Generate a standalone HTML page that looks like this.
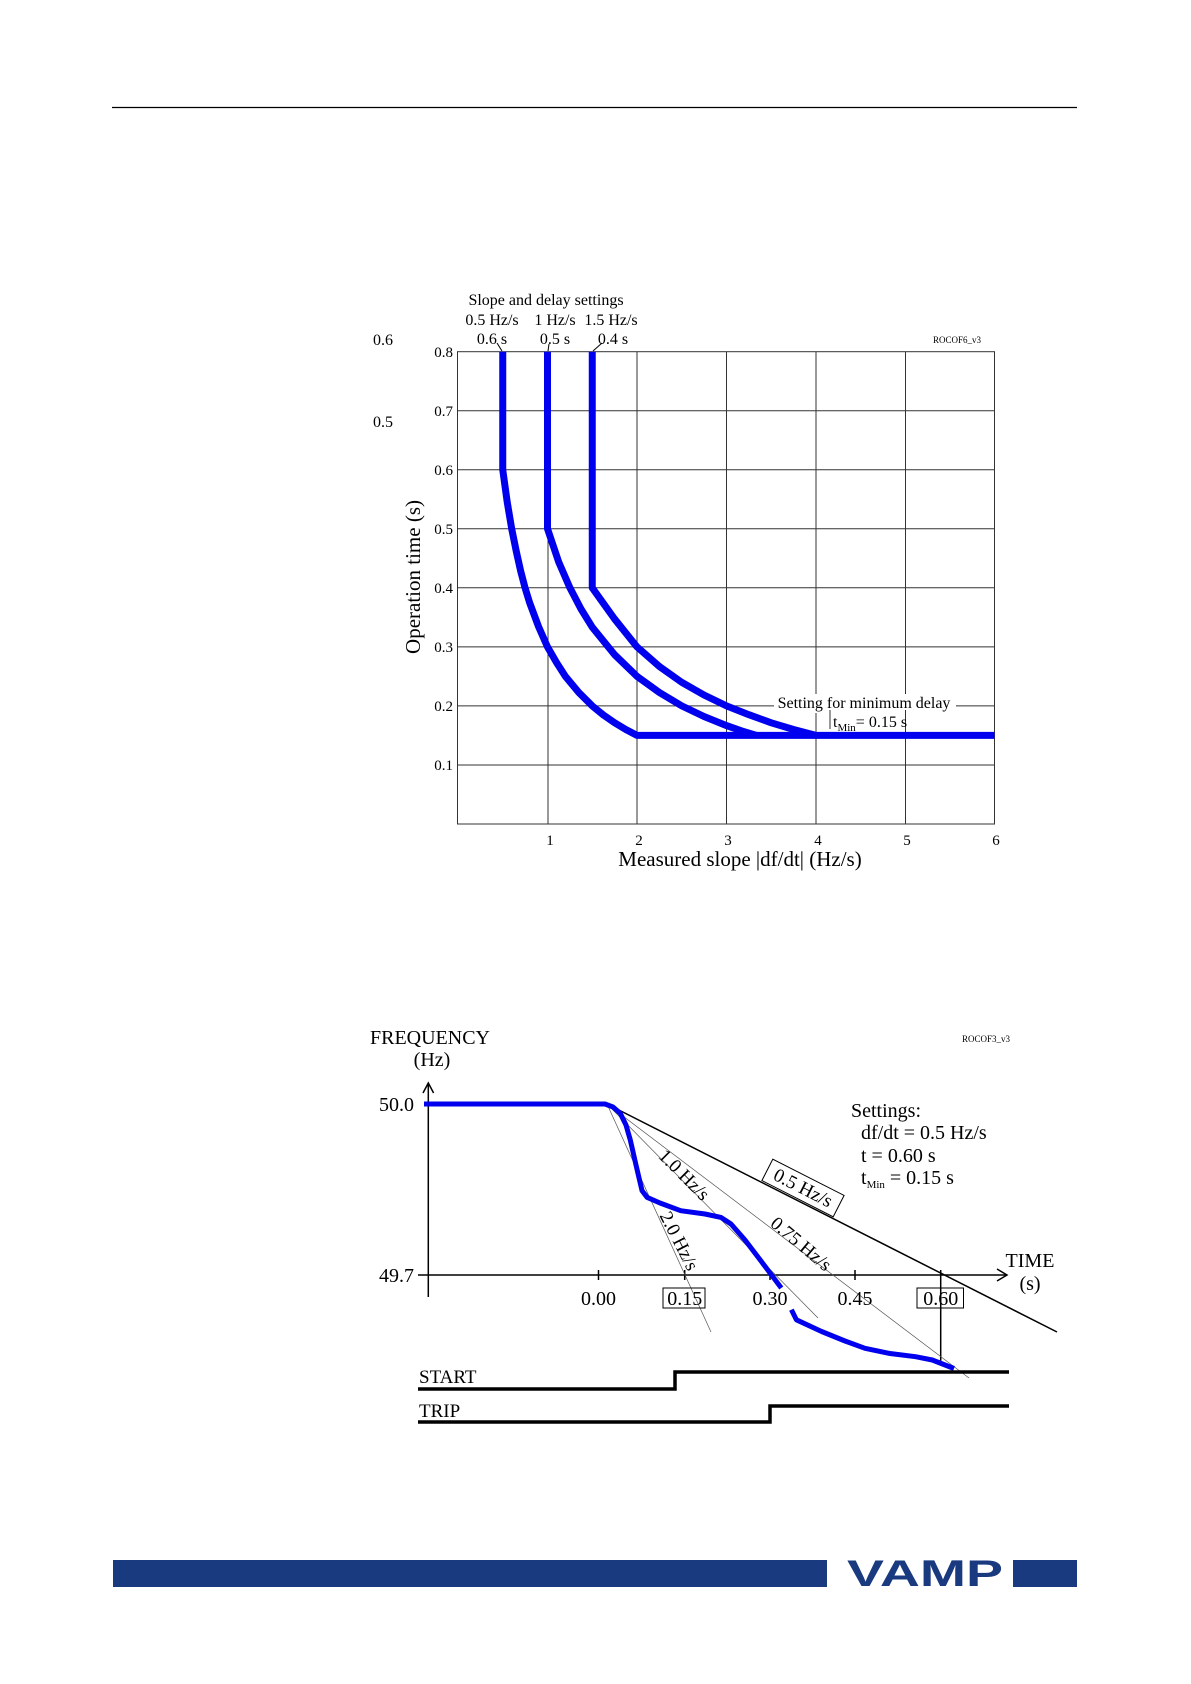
<!DOCTYPE html>
<html><head><meta charset="utf-8"><style>
html,body{margin:0;padding:0;background:#fff;}
svg{display:block;}
text{font-family:"Liberation Serif",serif;fill:#000;}
</style></head><body>
<svg width="1191" height="1684" viewBox="0 0 1191 1684" xmlns="http://www.w3.org/2000/svg">
<line x1="112" y1="107.5" x2="1077" y2="107.5" stroke="#000" stroke-width="1.2"/>

<!-- Chart 1 -->
<g stroke="#333" stroke-width="1" fill="none">
<rect x="457.5" y="351.7" width="537" height="472.3"/>
<line x1="548" y1="351.7" x2="548" y2="824"/>
<line x1="637" y1="351.7" x2="637" y2="824"/>
<line x1="726.5" y1="351.7" x2="726.5" y2="824"/>
<line x1="816" y1="351.7" x2="816" y2="824"/>
<line x1="905.5" y1="351.7" x2="905.5" y2="824"/>
<line x1="457.5" y1="410.7" x2="994.5" y2="410.7"/>
<line x1="457.5" y1="469.8" x2="994.5" y2="469.8"/>
<line x1="457.5" y1="528.8" x2="994.5" y2="528.8"/>
<line x1="457.5" y1="587.8" x2="994.5" y2="587.8"/>
<line x1="457.5" y1="646.9" x2="994.5" y2="646.9"/>
<line x1="457.5" y1="705.9" x2="994.5" y2="705.9"/>
<line x1="457.5" y1="765" x2="994.5" y2="765"/>
</g>
<rect x="774" y="694" width="182" height="19" fill="#fff"/>
<rect x="830" y="713" width="76" height="16" fill="#fff"/>
<line x1="830" y1="710" x2="830" y2="729" stroke="#333"/>
<line x1="905.5" y1="710" x2="905.5" y2="729" stroke="#333"/>
<g stroke="#0000ee" stroke-width="7" fill="none" stroke-linejoin="round">
<polyline points="502.75,351.7 502.75,469.8 507.2,502 511.7,528.8 516.2,551 520.65,571 525.1,588 529.6,602.6 538.5,626.5 547.5,646.9 556.5,662.5 565.4,676.4 578.8,692.5 592.25,705.9 603.4,715 614.6,722.8 625.8,729.5 637,735.4 994.5,735.4"/>
<polyline points="547.5,351.7 547.5,528.8 558.7,562 569.9,587.8 581,609 592.25,627.2 614.6,654.7 637,676.4 659.4,692.5 681.75,705.9 704,716.5 726.5,725.6 741.4,730.8 756.3,735.4"/>
<polyline points="592.25,351.7 592.25,587.8 614.6,619 637,646.9 659.4,666.5 681.75,682.3 704,695 726.5,705.9 748.9,714.7 771.25,722.8 793.6,729.5 816,735.4"/>
</g>
<g stroke="#000" stroke-width="1">
<line x1="497" y1="343" x2="502" y2="351"/>
<line x1="549" y1="344" x2="548" y2="351"/>
<line x1="602" y1="343" x2="593" y2="351"/>
</g>
<g font-size="16" text-anchor="middle">
<text x="546" y="305">Slope and delay settings</text>
<text x="492" y="325">0.5 Hz/s</text>
<text x="555" y="325">1 Hz/s</text>
<text x="611" y="325">1.5 Hz/s</text>
<text x="492" y="344">0.6 s</text>
<text x="555" y="344">0.5 s</text>
<text x="613" y="344">0.4 s</text>
<text x="383" y="345">0.6</text>
<text x="383" y="427">0.5</text>
</g>
<text x="957" y="343" font-size="9" text-anchor="middle">ROCOF6_v3</text>
<g font-size="15" text-anchor="end">
<text x="453" y="357">0.8</text>
<text x="453" y="416">0.7</text>
<text x="453" y="475">0.6</text>
<text x="453" y="534">0.5</text>
<text x="453" y="593">0.4</text>
<text x="453" y="652">0.3</text>
<text x="453" y="711">0.2</text>
<text x="453" y="770">0.1</text>
</g>
<g font-size="15" text-anchor="middle">
<text x="550" y="845">1</text>
<text x="639" y="845">2</text>
<text x="728" y="845">3</text>
<text x="818" y="845">4</text>
<text x="907" y="845">5</text>
<text x="996" y="845">6</text>
</g>
<text x="740" y="866" font-size="21" text-anchor="middle">Measured slope |df/dt|  (Hz/s)</text>
<text transform="translate(420,577) rotate(-90)" font-size="21" text-anchor="middle">Operation time  (s)</text>
<text x="864" y="708" font-size="16" text-anchor="middle">Setting for minimum delay</text>
<text x="833" y="727" font-size="16">t<tspan font-size="11" dy="4">Min</tspan><tspan dy="-4">= 0.15 s</tspan></text>

<!-- Chart 2 -->
<text x="430" y="1044" font-size="20" text-anchor="middle">FREQUENCY</text>
<text x="432" y="1066" font-size="20" text-anchor="middle">(Hz)</text>
<text x="986" y="1042" font-size="9" text-anchor="middle">ROCOF3_v3</text>
<g stroke="#000" stroke-width="1.5" fill="none">
<line x1="428.3" y1="1084" x2="428.3" y2="1297"/>
<polyline points="423,1093 428.3,1083 433.6,1093"/>
<line x1="418" y1="1275" x2="1006" y2="1275"/>
<polyline points="997,1269 1007,1275 997,1281"/>
<line x1="598.5" y1="1270" x2="598.5" y2="1280"/>
<line x1="684.7" y1="1270" x2="684.7" y2="1280"/>
<line x1="770" y1="1270" x2="770" y2="1280"/>
<line x1="855" y1="1270" x2="855" y2="1280"/>
<line x1="940.7" y1="1270" x2="940.7" y2="1365"/>
<line x1="607" y1="1104" x2="1057" y2="1332"/>
</g>
<g stroke="#555" stroke-width="0.7">
<line x1="607" y1="1104" x2="711" y2="1332"/>
<line x1="607" y1="1104" x2="818" y2="1318"/>
<line x1="607" y1="1104" x2="969" y2="1378"/>
</g>
<polyline points="424,1104 605,1104 613,1107 620.3,1113.4 626,1125 630.3,1140 636,1165 642,1190.6 647,1197.3 660,1203 680.7,1210.7 705,1214 721,1217.4 731,1224 745,1240 761,1261 781.3,1288" stroke="#0000ee" stroke-width="5" fill="none" stroke-linejoin="round"/>
<polyline points="791.4,1309.7 796.4,1319.8 821.6,1331.5 845,1341 865,1348.3 890,1353.5 915.6,1356.7 932.3,1360 954,1368.5" stroke="#0000ee" stroke-width="5" fill="none" stroke-linejoin="round"/>
<g font-size="20">
<text x="414" y="1111" text-anchor="end">50.0</text>
<text x="414" y="1282" text-anchor="end">49.7</text>
<text x="598.5" y="1305" text-anchor="middle">0.00</text>
<text x="684.7" y="1305" text-anchor="middle">0.15</text>
<text x="770" y="1305" text-anchor="middle">0.30</text>
<text x="855" y="1305" text-anchor="middle">0.45</text>
<text x="940.7" y="1305" text-anchor="middle">0.60</text>
<text x="1030" y="1267" text-anchor="middle">TIME</text>
<text x="1030" y="1290" text-anchor="middle">(s)</text>
<text x="851" y="1117">Settings:</text>
<text x="861" y="1139">df/dt = 0.5 Hz/s</text>
<text x="861" y="1162">t = 0.60 s</text>
<text x="861" y="1184">t<tspan font-size="11" dy="4">Min</tspan><tspan dy="-4"> =  0.15 s</tspan></text>
</g>
<g fill="none" stroke="#000" stroke-width="1">
<rect x="663" y="1288" width="42" height="20"/>
<rect x="917" y="1288" width="46.5" height="20"/>
</g>
<g font-size="19" text-anchor="middle">
<text transform="translate(684,1175) rotate(45)" dy="6">1.0 Hz/s</text>
<text transform="translate(679,1241) rotate(63)" dy="6">2.0 Hz/s</text>
<text transform="translate(801,1244) rotate(40)" dy="6">0.75 Hz/s</text>
<g transform="translate(803,1188) rotate(27)">
<rect x="-40" y="-12" width="80" height="24" fill="#fff" stroke="#000" stroke-width="1"/>
<text y="6">0.5 Hz/s</text>
</g>
</g>
<g stroke="#000" stroke-width="3.5" fill="none">
<polyline points="418,1389 675,1389 675,1372 1009,1372"/>
<polyline points="418,1422 770,1422 770,1406 1009,1406"/>
</g>
<text x="419" y="1383" font-size="19">START</text>
<text x="419" y="1417" font-size="19">TRIP</text>

<!-- Footer -->
<rect x="113" y="1560" width="714" height="27" fill="#1a3a80"/>
<rect x="1013" y="1560" width="64" height="27" fill="#1a3a80"/>
<text x="847" y="1586" font-weight="bold" font-size="37" style="fill:#1a3a80;font-family:'Liberation Sans',sans-serif" textLength="156" lengthAdjust="spacingAndGlyphs">VAMP</text>
</svg>
</body></html>
